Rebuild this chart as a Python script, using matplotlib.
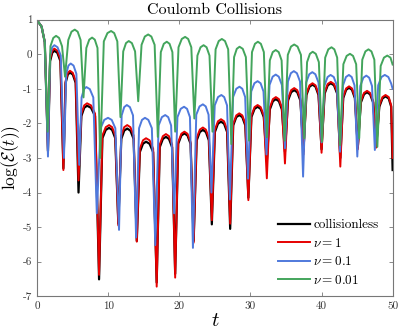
import numpy as np
import matplotlib
matplotlib.use('Agg')
from matplotlib import pyplot as plt

plt.rcParams['font.family'] = ['cmr10', 'DejaVu Serif']
plt.rcParams['mathtext.fontset'] = 'cm'
plt.rcParams['axes.unicode_minus'] = False

# collisionless and nu = 1 share the same time samples
t_bk = [0.0, 0.6, 1.05, 1.5,
        1.8, 2.1, 2.4, 2.82, 3.25, 3.67,
        3.98, 4.29, 4.6, 5.0, 5.4, 5.8,
        6.2, 6.6, 7.0, 7.56, 8.13, 8.69,
        9.16, 9.63, 10.1, 10.53, 10.97, 11.4,
        11.82, 12.23, 12.65, 13.1, 13.55, 14.0,
        14.43, 14.87, 15.3, 15.8, 16.3, 16.8,
        17.23, 17.67, 18.1, 18.53, 18.97, 19.4,
        19.83, 20.27, 20.7, 21.13, 21.57, 22.0,
        22.43, 22.87, 23.3, 23.72, 24.14, 24.56,
        24.99, 25.42, 25.85, 26.28, 26.71, 27.14,
        27.57, 28.0, 28.42, 28.85, 29.27, 29.7,
        30.13, 30.57, 31.0, 31.43, 31.87, 32.3,
        32.72, 33.15, 33.57, 34.0, 34.42, 34.85,
        35.28, 35.72, 36.15, 36.58, 37.02, 37.45,
        37.87, 38.3, 38.72, 39.15, 39.57, 40.0,
        40.43, 40.87, 41.3, 41.75, 42.2, 42.64,
        43.05, 43.46, 43.87, 44.28, 44.69, 45.1,
        45.53, 45.97, 46.4, 46.83, 47.27, 47.7,
        48.13, 48.57, 49.0, 49.45, 49.8, 50.0]

y_collisionless = [0.97, 0.8, 0.35, -2.8,
                   -0.2, 0.04, 0.1, 0.04, -0.2, -3.3,
                   -0.83, -0.59, -0.53, -0.59, -0.83, -4.0,
                   -1.79, -1.55, -1.49, -1.55, -1.79, -6.51,
                   -2.43, -2.19, -2.13, -2.19, -2.43, -4.9,
                   -2.45, -2.21, -2.15, -2.21, -2.45, -5.4,
                   -2.83, -2.59, -2.53, -2.59, -2.83, -6.6,
                   -2.69, -2.45, -2.39, -2.45, -2.69, -6.35,
                   -2.59, -2.35, -2.29, -2.35, -2.59, -5.4,
                   -2.49, -2.25, -2.19, -2.25, -2.49, -4.92,
                   -2.25, -2.01, -1.95, -2.01, -2.25, -5.05,
                   -2.06, -1.82, -1.76, -1.82, -2.06, -4.15,
                   -1.82, -1.58, -1.52, -1.58, -1.82, -3.1,
                   -1.6, -1.36, -1.3, -1.36, -1.6, -2.82,
                   -1.34, -1.1, -1.04, -1.1, -1.34, -2.8,
                   -1.18, -0.94, -0.88, -0.94, -1.18, -2.75,
                   -1.14, -0.9, -0.84, -0.9, -1.14, -3.0,
                   -1.27, -1.03, -0.97, -1.03, -1.27, -2.7,
                   -1.4, -1.16, -1.1, -1.16, -1.4, -2.65,
                   -1.52, -1.28, -1.22, -1.28, -1.52, -3.35]

y_nu1 = [0.97, 0.8, 0.35, -2.8,
         -0.14, 0.1, 0.16, 0.1, -0.14, -3.35,
         -0.78, -0.54, -0.48, -0.54, -0.78, -3.65,
         -1.72, -1.48, -1.42, -1.48, -1.72, -6.38,
         -2.35, -2.11, -2.05, -2.11, -2.35, -4.95,
         -2.35, -2.11, -2.05, -2.11, -2.35, -5.42,
         -2.73, -2.49, -2.43, -2.49, -2.73, -6.72,
         -2.61, -2.37, -2.31, -2.37, -2.61, -6.46,
         -2.54, -2.3, -2.24, -2.3, -2.54, -5.45,
         -2.42, -2.18, -2.12, -2.18, -2.42, -4.8,
         -2.18, -1.94, -1.88, -1.94, -2.18, -4.9,
         -2.01, -1.77, -1.71, -1.77, -2.01, -4.22,
         -1.77, -1.53, -1.47, -1.53, -1.77, -3.59,
         -1.54, -1.3, -1.24, -1.3, -1.54, -3.16,
         -1.28, -1.04, -0.98, -1.04, -1.28, -2.9,
         -1.14, -0.9, -0.84, -0.9, -1.14, -2.85,
         -1.1, -0.86, -0.8, -0.86, -1.1, -3.25,
         -1.23, -0.99, -0.93, -0.99, -1.23, -2.75,
         -1.36, -1.12, -1.06, -1.12, -1.36, -2.7,
         -1.48, -1.24, -1.18, -1.24, -1.48, -3.0]

t_nu01 = [0.0, 0.6, 1.05, 1.5,
          1.8, 2.1, 2.4, 2.85, 3.3, 3.75,
          4.07, 4.38, 4.7, 5.1, 5.5, 5.9,
          6.23, 6.57, 6.9, 7.39, 7.88, 8.37,
          8.9, 9.42, 9.95, 10.47, 10.98, 11.5,
          11.87, 12.23, 12.6, 13.03, 13.47, 13.9,
          14.32, 14.73, 15.15, 15.63, 16.12, 16.6,
          17.07, 17.53, 18.0, 18.42, 18.83, 19.25,
          19.72, 20.18, 20.65, 21.07, 21.48, 21.9,
          22.37, 22.83, 23.3, 23.7, 24.1, 24.5,
          24.97, 25.43, 25.9, 26.3, 26.7, 27.1,
          27.55, 28.0, 28.45, 28.85, 29.25, 29.65,
          30.1, 30.55, 31.0, 31.42, 31.83, 32.25,
          32.68, 33.12, 33.55, 33.98, 34.42, 34.85,
          35.27, 35.68, 36.1, 36.53, 36.97, 37.4,
          37.83, 38.27, 38.7, 39.13, 39.57, 40.0,
          40.42, 40.85, 41.27, 41.72, 42.15, 42.6,
          43.02, 43.43, 43.85, 44.24, 44.64, 45.03,
          45.45, 45.88, 46.3, 46.7, 47.1, 47.5,
          47.97, 48.43, 48.9, 49.4, 49.8, 50.0]

y_nu01 = [0.97, 0.8, 0.35, -2.96,
          -0.04, 0.2, 0.26, 0.2, -0.04, -3.0,
          -0.57, -0.33, -0.27, -0.33, -0.57, -3.2,
          -1.25, -1.01, -0.95, -1.01, -1.25, -4.6,
          -2.14, -1.9, -1.84, -1.9, -2.14, -5.08,
          -1.77, -1.53, -1.47, -1.53, -1.77, -5.3,
          -2.14, -1.9, -1.84, -1.9, -2.14, -5.52,
          -2.06, -1.82, -1.76, -1.82, -2.06, -4.6,
          -1.82, -1.58, -1.52, -1.58, -1.82, -5.6,
          -1.75, -1.51, -1.45, -1.51, -1.75, -4.0,
          -1.48, -1.24, -1.18, -1.24, -1.48, -4.2,
          -1.24, -1.0, -0.94, -1.0, -1.24, -3.6,
          -1.08, -0.84, -0.78, -0.84, -1.08, -2.9,
          -0.89, -0.65, -0.59, -0.65, -0.89, -2.72,
          -0.79, -0.55, -0.49, -0.55, -0.79, -3.54,
          -0.82, -0.58, -0.52, -0.58, -0.82, -2.55,
          -0.9, -0.66, -0.6, -0.66, -0.9, -2.82,
          -0.9, -0.66, -0.6, -0.66, -0.9, -2.96,
          -0.92, -0.68, -0.62, -0.68, -0.92, -2.77,
          -0.9, -0.66, -0.6, -0.66, -0.85, -1.0]

t_nu001 = [0.0, 0.6, 1.05, 1.45,
           1.85, 2.25, 2.64, 3.06, 3.48, 3.9,
           4.36, 4.81, 5.27, 5.68, 6.09, 6.5,
           6.9, 7.31, 7.71, 8.09, 8.47, 8.85,
           9.36, 9.87, 10.38, 10.82, 11.26, 11.7,
           12.09, 12.48, 12.87, 13.31, 13.76, 14.2,
           14.67, 15.13, 15.6, 16.05, 16.51, 16.96,
           17.38, 17.8, 18.22, 18.61, 19.01, 19.4,
           19.87, 20.33, 20.8, 21.23, 21.67, 22.1,
           22.53, 22.97, 23.4, 23.82, 24.23, 24.65,
           25.09, 25.53, 25.97, 26.41, 26.86, 27.3,
           27.69, 28.07, 28.46, 28.91, 29.35, 29.8,
           30.21, 30.63, 31.04, 31.46, 31.88, 32.3,
           32.72, 33.13, 33.55, 33.97, 34.38, 34.8,
           35.25, 35.7, 36.15, 36.62, 37.1, 37.57,
           37.96, 38.36, 38.75, 39.19, 39.62, 40.06,
           40.51, 40.95, 41.4, 41.8, 42.2, 42.6,
           43.07, 43.53, 44.0, 44.43, 44.87, 45.3,
           45.73, 46.17, 46.6, 47.02, 47.43, 47.85,
           48.32, 48.78, 49.25, 49.7, 50.0]

y_nu001 = [0.97, 0.8, 0.35, -2.24,
           0.23, 0.47, 0.53, 0.47, 0.23, -0.65,
           0.41, 0.65, 0.71, 0.65, 0.41, -1.25,
           0.18, 0.42, 0.48, 0.42, 0.18, -3.0,
           0.37, 0.61, 0.67, 0.61, 0.37, -1.82,
           0.08, 0.32, 0.38, 0.32, 0.08, -1.36,
           0.27, 0.51, 0.57, 0.51, 0.27, -2.39,
           0.06, 0.3, 0.36, 0.3, 0.06, -2.24,
           0.2, 0.44, 0.5, 0.44, 0.2, -1.86,
           -0.04, 0.2, 0.26, 0.2, -0.04, -2.24,
           0.14, 0.38, 0.44, 0.38, 0.14, -2.6,
           -0.085, 0.155, 0.215, 0.155, -0.085, -2.5,
           0.06, 0.3, 0.36, 0.3, 0.06, -2.4,
           -0.18, 0.06, 0.12, 0.06, -0.18, -2.5,
           -0.02, 0.22, 0.28, 0.22, -0.02, -2.43,
           -0.23, 0.01, 0.07, 0.01, -0.23, -2.53,
           -0.1, 0.14, 0.2, 0.14, -0.1, -2.63,
           -0.29, -0.05, 0.01, -0.05, -0.29, -2.43,
           -0.16, 0.08, 0.14, 0.08, -0.16, -2.68,
           -0.34, -0.1, -0.04, -0.1, -0.3]

labels = ['collisionless', r'$\nu = 1$', r'$\nu = 0.1$', r'$\nu = 0.01$']
xticks = [0, 10, 20, 30, 40, 50]
yticks = [-7, -6, -5, -4, -3, -2, -1, 0, 1]

fig = plt.figure(figsize=(3.99, 3.32), dpi=100)
ax = fig.add_axes([0.0935, 0.1075, 0.8905, 0.8335])

ax.plot(t_bk, y_collisionless, color='k', lw=1.6, label=labels[0])
ax.plot(t_bk, y_nu1, color='#e60000', lw=1.4, label=labels[1])
ax.plot(t_nu01, y_nu01, color='#4f79dc', lw=1.4, label=labels[2])
ax.plot(t_nu001, y_nu001, color='#43a55c', lw=1.4, label=labels[3])

ax.set_xlim(0, 50)
ax.set_ylim(-7, 1)
ax.set_xticks(xticks)
ax.set_xticklabels([str(v) for v in xticks])
ax.set_yticks(yticks)
ax.set_yticklabels([str(v) for v in yticks])
ax.tick_params(direction='in', length=3, width=0.6, color='#777777',
               labelsize=8, labelcolor='#333333', top=True, right=True, pad=3.5)
for s in ax.spines.values():
    s.set_color('#777777')
    s.set_linewidth(0.8)

ax.set_title('Coulomb Collisions', fontsize=11.5, pad=4)
ax.set_xlabel(r'$t$', fontsize=15, labelpad=1)
ax.set_ylabel(r'$\log(\mathcal{E}(t))$', fontsize=12.5)
ax.yaxis.set_label_coords(-0.043, 0.5)

ax.legend(loc='lower left', bbox_to_anchor=(0.662, 0.015), borderaxespad=0,
          frameon=False, fontsize=9.5, handlelength=2.45,
          handletextpad=0.25, labelspacing=0.42)

fig.savefig('out.png', dpi=100)
